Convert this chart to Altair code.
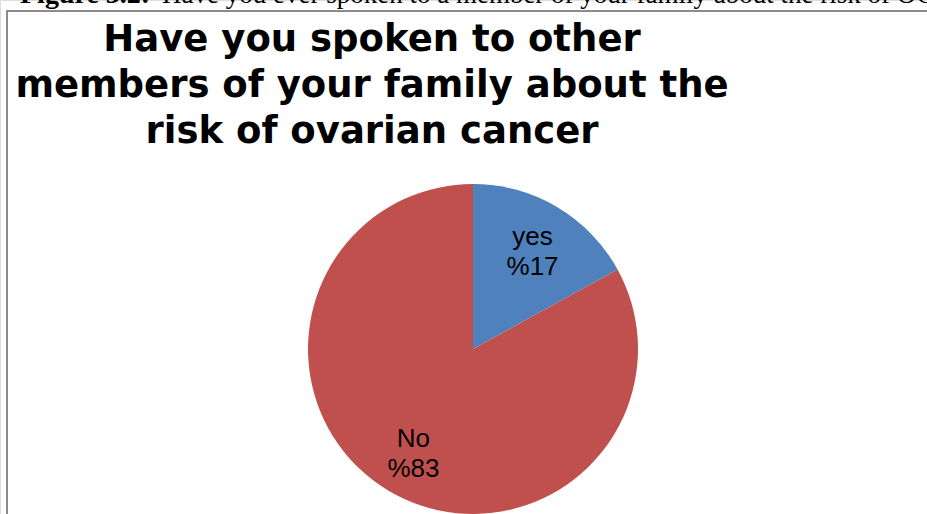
import altair as alt
import pandas as pd

# Data
categories = ["yes", "No"]
values = [17, 83]
colors = ["#4F81BD", "#C0504D"]
title_lines = ["Have you spoken to other", "members of your family about the", "risk of ovarian cancer"]
caption_bold = "Figure 3.2:"
caption_rest = "Have you ever spoken to a member of your family about the risk of OC"

W, H = 927, 514
CX, CY, R = 473, 349, 165

pie_df = pd.DataFrame({
    "category": categories,
    "value": values,
    "order": list(range(len(categories))),
    "label": [f"{c}\n%{v}" for c, v in zip(categories, values)],
})

color_scale = alt.Scale(domain=categories, range=colors)

frame = alt.Chart(pd.DataFrame({"a": [0]})).mark_rect(
    fill=None, stroke="#8c8c8c", strokeWidth=2
).encode(
    x=alt.value(7), x2=alt.value(W + 20), y=alt.value(11), y2=alt.value(H + 20)
)

cap1 = alt.Chart(pd.DataFrame({"t": [caption_bold]})).mark_text(
    font="Liberation Serif", fontSize=28, fontWeight="bold", align="left", baseline="alphabetic", color="black"
).encode(text="t:N", x=alt.value(20), y=alt.value(3))

cap2 = alt.Chart(pd.DataFrame({"t": [caption_rest]})).mark_text(
    font="Liberation Serif", fontSize=27, align="left", baseline="alphabetic", color="black"
).encode(text="t:N", x=alt.value(162), y=alt.value(3))

title = alt.Chart(pd.DataFrame({"t": ["\n".join(title_lines)]})).mark_text(
    font="DejaVu Sans", fontSize=37, fontWeight="bold", align="center", baseline="alphabetic",
    lineBreak="\n", lineHeight=46, color="black"
).encode(text="t:N", x=alt.value(372), y=alt.value(51))

base = alt.Chart(pie_df).encode(
    theta=alt.Theta("value:Q", stack=True),
    order=alt.Order("order:Q"),
)

arcs = base.mark_arc(outerRadius=R, stroke=None).encode(
    color=alt.Color("category:N", scale=color_scale, legend=None),
    x=alt.value(CX), y=alt.value(CY),
)

labels = base.mark_text(
    radius=117, font="Liberation Sans", fontSize=26, align="center", baseline="middle",
    lineBreak="\n", lineHeight=30, color="black", dy=-11
).encode(text="label:N", x=alt.value(CX), y=alt.value(CY))

chart = alt.layer(frame, cap1, cap2, title, arcs, labels).properties(
    width=W, height=H, padding=0, autosize=alt.AutoSizeParams(type="none")
).configure_view(stroke=None).configure(background="white")

chart.save("out.html", embed_options={"renderer": "svg", "actions": False})
